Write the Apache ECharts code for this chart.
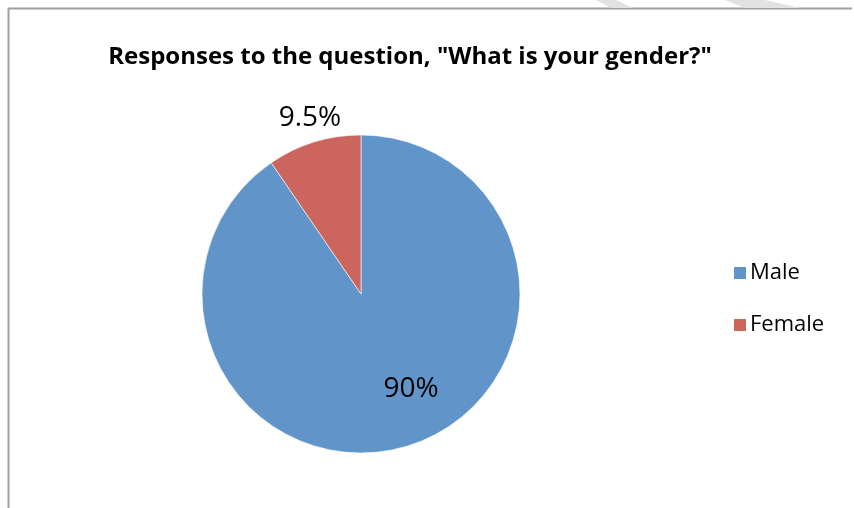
<!DOCTYPE html>
<html><head><meta charset="utf-8">
<script src="https://cdn.jsdelivr.net/npm/echarts@6/dist/echarts.min.js"></script>
<style>html,body{margin:0;padding:0;background:#fff}#c{width:854px;height:508px}</style>
</head><body><div id="c"></div>
<script>
const categories = ["Male", "Female"];
const values = [90, 9.5];
const labelsText = ["90%", "9.5%"];
const colors = ["#6195C9", "#CB655E"];
const titleText = 'Responses to the question, "What is your gender?"';

const chart = echarts.init(document.getElementById('c'), null, {renderer: 'canvas'});
const labelPos = [[411, 389], [310, 118]];
chart.setOption({
  animation: false,
  backgroundColor: '#fff',
  title: {
    text: titleText, left: 405, top: 39, textAlign: 'center',
    textStyle: {fontFamily: 'Open Sans', fontWeight: 'bold', fontSize: 24, color: '#000', lineHeight: 26}
  },
  legend: {
    orient: 'vertical', left: 727, top: 257, itemWidth: 14, itemHeight: 14, itemGap: 30,
    icon: 'rect',
    textStyle: {fontFamily: 'Open Sans', fontSize: 22, color: '#000', lineHeight: 22, padding: [0,0,0,-2]},
    data: categories
  },
  graphic: [
    {type: 'line', shape: {x1: 8, y1: 8.5, x2: 852, y2: 8.5}, style: {stroke: '#a0a0a0', lineWidth: 2}},
    {type: 'line', shape: {x1: 8.5, y1: 8, x2: 8.5, y2: 508}, style: {stroke: '#a0a0a0', lineWidth: 2}},
    {type: 'polygon', shape: {points: [[596,0],[616,0],[633,8],[611,8]]}, style: {fill: '#e2e2e2'}},
    {type: 'polygon', shape: {points: [[725,0],[765,0],[800,8],[745,8]]}, style: {fill: '#e2e2e2'}}
  ],
  series: [{
    type: 'pie',
    center: [361, 294], radius: 159,
    startAngle: 90, clockwise: true,
    itemStyle: {borderColor: '#fff', borderWidth: 0.6},
    label: {
      show: true, position: 'inside',
      fontFamily: 'Open Sans', fontSize: 28, color: '#000',
      formatter: p => labelsText[p.dataIndex]
    },
    labelLine: {show: false},
    labelLayout: p => ({x: labelPos[p.dataIndex][0], y: labelPos[p.dataIndex][1], align: 'center', verticalAlign: 'middle'}),
    data: categories.map((c, i) => ({name: c, value: values[i], itemStyle: {color: colors[i]}}))
  }]
});
</script></body></html>
